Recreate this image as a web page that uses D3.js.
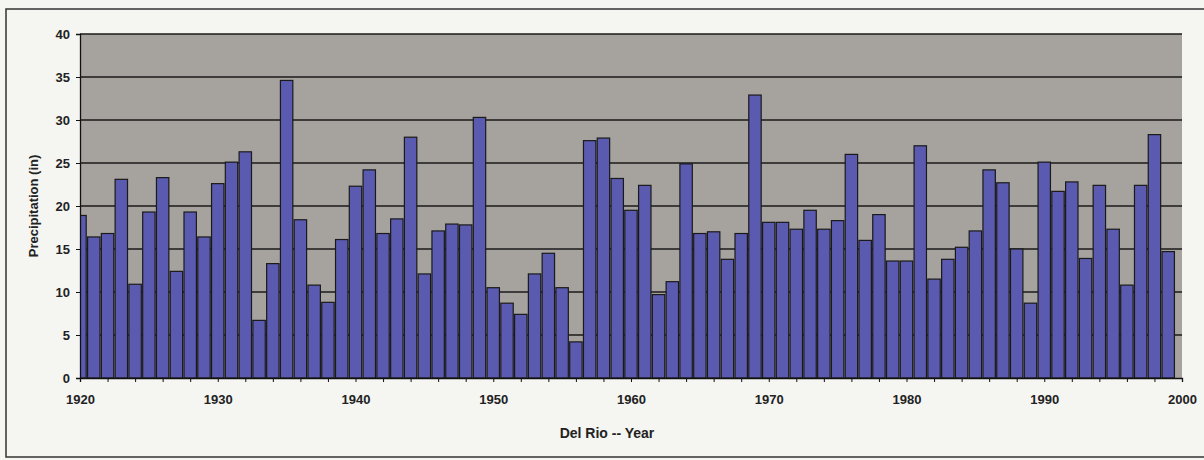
<!DOCTYPE html>
<html><head><meta charset="utf-8">
<script src="https://cdn.jsdelivr.net/npm/d3@7"></script>
<style>body{margin:0;background:#f5f5f2;} svg{display:block;}</style>
</head><body>
<svg id="c" width="1204" height="460"></svg>
<script>
const years = d3.range(1920, 2000);
const precip = [18.9,16.4,16.8,23.1,10.9,19.3,23.3,12.4,19.3,16.4,
  22.6,25.1,26.3,6.7,13.3,34.6,18.4,10.8,8.8,16.1,
  22.3,24.2,16.8,18.5,28.0,12.1,17.1,17.9,17.8,30.3,
  10.5,8.7,7.4,12.1,14.5,10.5,4.2,27.6,27.9,23.2,
  19.5,22.4,9.7,11.2,24.9,16.8,17.0,13.8,16.8,32.9,
  18.1,18.1,17.3,19.5,17.3,18.3,26.0,16.0,19.0,13.6,
  13.6,27.0,11.5,13.8,15.2,17.1,24.2,22.7,15.0,8.7,
  25.1,21.7,22.8,13.9,22.4,17.3,10.8,22.4,28.3,14.7];
const yTicks = [0,5,10,15,20,25,30,35,40];
const xLabels = [1920,1930,1940,1950,1960,1970,1980,1990,2000];
const xMinor = d3.range(1920, 2001, 2);

const svg = d3.select("#c");
const L = 80, R = 1182, T = 34, B = 378;
const x = d3.scaleLinear().domain([1920, 2000]).range([L, R]);
const y = d3.scaleLinear().domain([0, 40]).range([B, T]);
const font = "Arial, 'Liberation Sans', sans-serif";

// outer frame
svg.append("rect").attr("x",6).attr("y",9).attr("width",1210).attr("height",448)
  .attr("fill","none").attr("stroke","#333").attr("stroke-width",1.5);

// plot background
svg.append("rect").attr("x",L).attr("y",T).attr("width",R-L).attr("height",B-T)
  .attr("fill","#a6a29e");
svg.append("clipPath").attr("id","pc").append("rect")
  .attr("x",L).attr("y",T).attr("width",R-L).attr("height",B-T);

// grid lines
svg.append("g").selectAll("line").data(yTicks.filter(d=>d>0)).join("line")
  .attr("x1",L).attr("x2",R).attr("y1",d=>y(d)).attr("y2",d=>y(d))
  .attr("stroke","#1a1a1a").attr("stroke-width",1.3);

// bars
const bw = 12.4;
svg.append("g").attr("clip-path","url(#pc)").selectAll("rect").data(years).join("rect")
  .attr("x",(d)=>x(d)-bw/2).attr("width",bw)
  .attr("y",(d,i)=>y(precip[i])).attr("height",(d,i)=>y(0)-y(precip[i]))
  .attr("fill","#5a5ab0").attr("stroke","#1a1a1a").attr("stroke-width",1.2);

// y axis
const ya = d3.axisLeft(y).tickValues(yTicks).tickSize(4).tickPadding(6);
const gy = svg.append("g").attr("transform",`translate(${L},0)`).call(ya);
gy.select(".domain").attr("stroke","#111").attr("stroke-width",1.3);
gy.selectAll(".tick line").attr("stroke","#111");
gy.selectAll("text").attr("font-family",font).attr("font-weight","bold")
  .attr("font-size",13).attr("fill","#222");

// x axis
const xa = d3.axisBottom(x).tickValues(xMinor).tickSize(4)
  .tickFormat(d=> xLabels.includes(d) ? String(d) : "");
const gx = svg.append("g").attr("transform",`translate(0,${B})`).call(xa);
gx.select(".domain").attr("stroke","#111").attr("stroke-width",1.3);
gx.selectAll(".tick line").attr("stroke","#111");
gx.selectAll("text").attr("font-family",font).attr("font-weight","bold")
  .attr("font-size",13).attr("fill","#222").attr("dy","1.45em");

// titles
svg.append("text").attr("x",(L+R)/2-24).attr("y",438).attr("text-anchor","middle")
  .attr("font-family",font).attr("font-weight","bold").attr("font-size",14).attr("fill","#222")
  .text("Del Rio -- Year");
svg.append("text").attr("transform","translate(38,206) rotate(-90)").attr("text-anchor","middle")
  .attr("font-family",font).attr("font-weight","bold").attr("font-size",13).attr("fill","#222")
  .text("Precipitation (in)");
</script>
</body></html>
